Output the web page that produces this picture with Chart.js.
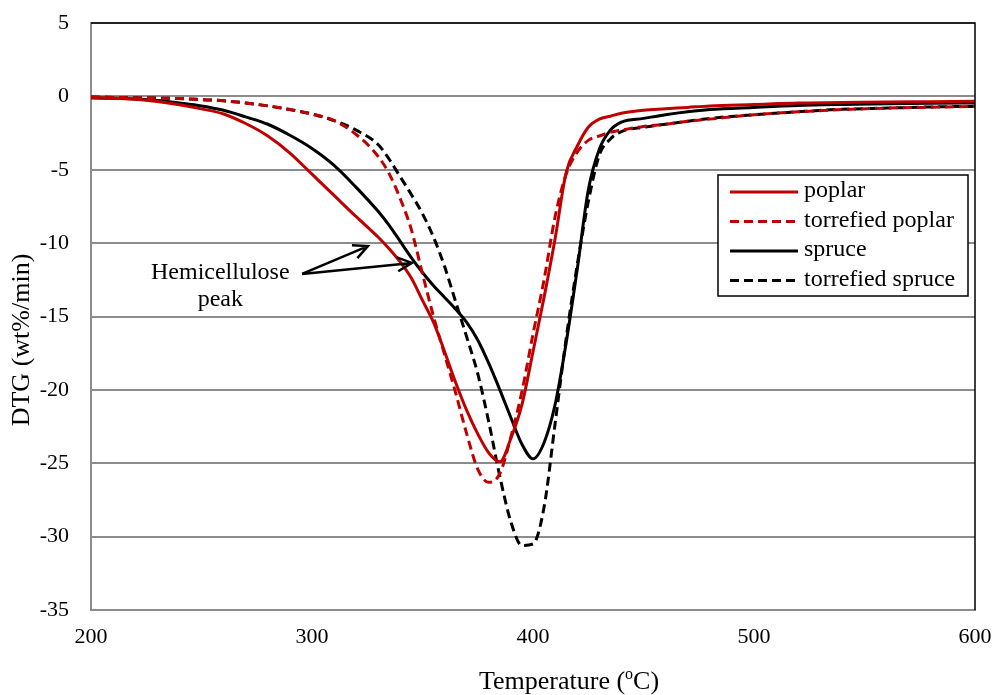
<!DOCTYPE html>
<html>
<head>
<meta charset="utf-8">
<script src="https://cdn.jsdelivr.net/npm/chart.js@4.4.1/dist/chart.umd.min.js"></script>
<style>
  html, body { margin: 0; padding: 0; background: #fff; overflow: hidden; }
</style>
</head>
<body>
<canvas id="dtg" width="995" height="695"></canvas>
<script>
// temperatures (°C) shared by all curves
const temps = [200, 210, 220, 230, 240, 250, 260, 270, 280, 290, 300, 310, 320, 330, 335, 340, 345, 350, 355, 360, 365, 370, 375, 380, 385, 390, 395, 400, 405, 410, 415, 420, 425, 430, 435, 440, 450, 460, 470, 480, 500, 520, 540, 560, 580, 600];

// DTG (wt%/min)
const poplar = [-0.1, -0.13, -0.2, -0.35, -0.57, -0.85, -1.2, -1.85, -2.7, -3.86, -5.3, -6.75, -8.2, -9.6, -10.4, -11.3, -12.4, -13.9, -15.4, -17.4, -19.5, -21.4, -23.0, -24.3, -24.9, -23.3, -21.0, -17.4, -13.7, -9.7, -5.2, -3.4, -2.1, -1.55, -1.35, -1.15, -0.95, -0.85, -0.75, -0.65, -0.55, -0.45, -0.42, -0.38, -0.36, -0.34];
const torrPoplar = [-0.05, -0.07, -0.1, -0.12, -0.15, -0.22, -0.3, -0.45, -0.65, -0.9, -1.2, -1.65, -2.6, -4.1, -5.3, -7.0, -9.1, -12.1, -15.0, -17.6, -20.2, -23.0, -25.4, -26.3, -25.7, -23.2, -20.1, -16.2, -12.5, -8.2, -5.3, -3.8, -3.0, -2.7, -2.45, -2.3, -2.05, -1.9, -1.7, -1.55, -1.25, -1.05, -0.9, -0.8, -0.74, -0.68];
const spruce = [-0.1, -0.12, -0.18, -0.28, -0.45, -0.65, -0.95, -1.4, -1.9, -2.65, -3.55, -4.7, -6.2, -7.85, -8.8, -9.9, -11.0, -12.0, -12.9, -13.7, -14.5, -15.4, -16.6, -18.2, -20.0, -21.9, -23.7, -24.7, -23.6, -21.0, -16.8, -11.8, -6.4, -3.6, -2.3, -1.75, -1.5, -1.25, -1.05, -0.9, -0.75, -0.62, -0.55, -0.5, -0.47, -0.45];
const torrSpruce = [-0.05, -0.07, -0.1, -0.12, -0.15, -0.22, -0.3, -0.45, -0.65, -0.9, -1.2, -1.65, -2.3, -3.3, -4.3, -5.5, -6.7, -8.0, -9.6, -11.6, -14.0, -16.4, -18.9, -22.2, -25.9, -29.0, -30.6, -30.5, -28.0, -22.3, -16.5, -11.5, -7.2, -4.0, -2.9, -2.4, -2.1, -1.9, -1.7, -1.5, -1.25, -1.05, -0.88, -0.8, -0.72, -0.68];

const seriesNames = ["poplar", "torrefied poplar", "spruce", "torrefied spruce"];
const yTicks = [5, 0, -5, -10, -15, -20, -25, -30, -35];
const xTicks = [200, 300, 400, 500, 600];

const FONT = "'Liberation Serif', 'Times New Roman', serif";
const RED = "#c00000";

function pts(vals) {
  return temps.map((t, i) => ({ x: t, y: vals[i] }));
}

function line(label, vals, color, dashed) {
  return {
    label: label,
    data: pts(vals),
    borderColor: color,
    backgroundColor: color,
    borderWidth: 3,
    borderDash: dashed ? [9, 5] : [],
    pointRadius: 0,
    cubicInterpolationMode: "monotone",
    fill: false,
  };
}

// annotation "Hemicellulose peak" (in data units)
const note = { lines: ["Hemicellulose", "peak"], x: 258.5, y: -12.0 };
const arrowFrom = { x: 295.5, y: -12.1 };
const arrowTips = [{ x: 325.3, y: -10.2 }, { x: 345.2, y: -11.35 }];

const extras = {
  id: "extras",
  afterDraw(c) {
    const ctx = c.ctx;
    const a = c.chartArea;
    const xs = c.scales.x, ys = c.scales.y;
    ctx.save();

    // top and right border of the plot
    ctx.strokeStyle = "#000";
    ctx.lineWidth = 1.5;
    ctx.beginPath();
    ctx.moveTo(a.left, a.top);
    ctx.lineTo(a.right, a.top);
    ctx.lineTo(a.right, a.bottom);
    ctx.stroke();

    // x axis title with superscript o
    ctx.fillStyle = "#000";
    ctx.textBaseline = "alphabetic";
    ctx.textAlign = "left";
    const big = "26px " + FONT, small = "16px " + FONT;
    const p1 = "Temperature (", p2 = "o", p3 = "C)";
    ctx.font = big;
    const w1 = ctx.measureText(p1).width, w3 = ctx.measureText(p3).width;
    ctx.font = small;
    const w2 = ctx.measureText(p2).width;
    let tx0 = 569 - (w1 + w2 + w3) / 2;
    const by = 689;
    ctx.font = big;
    ctx.fillText(p1, tx0, by);
    ctx.font = small;
    ctx.fillText(p2, tx0 + w1, by - 10);
    ctx.font = big;
    ctx.fillText(p3, tx0 + w1 + w2, by);

    // y axis title
    ctx.save();
    ctx.translate(22, 340);
    ctx.rotate(-Math.PI / 2);
    ctx.font = "26px " + FONT;
    ctx.textAlign = "center";
    ctx.textBaseline = "middle";
    ctx.fillText("DTG (wt%/min)", 0, 0);
    ctx.restore();

    // annotation
    ctx.font = "24px " + FONT;
    ctx.textAlign = "center";
    ctx.textBaseline = "middle";
    const nx = xs.getPixelForValue(note.x), ny = ys.getPixelForValue(note.y);
    ctx.fillText(note.lines[0], nx, ny);
    ctx.fillText(note.lines[1], nx, ny + 27);

    const fx = xs.getPixelForValue(arrowFrom.x), fy = ys.getPixelForValue(arrowFrom.y);
    ctx.lineWidth = 2.5;
    ctx.strokeStyle = "#000";
    arrowTips.forEach((tip) => {
      const tx = xs.getPixelForValue(tip.x), ty = ys.getPixelForValue(tip.y);
      const ang = Math.atan2(ty - fy, tx - fx);
      ctx.beginPath();
      ctx.moveTo(fx, fy);
      ctx.lineTo(tx, ty);
      ctx.moveTo(tx - 16 * Math.cos(ang - 0.45), ty - 16 * Math.sin(ang - 0.45));
      ctx.lineTo(tx, ty);
      ctx.lineTo(tx - 16 * Math.cos(ang + 0.45), ty - 16 * Math.sin(ang + 0.45));
      ctx.stroke();
    });

    // legend box
    const lx = 718, ly = 175, lw = 250, lh = 121;
    ctx.fillStyle = "#fff";
    ctx.fillRect(lx, ly, lw, lh);
    ctx.strokeStyle = "#000";
    ctx.lineWidth = 1.5;
    ctx.strokeRect(lx, ly, lw, lh);
    ctx.font = "24px " + FONT;
    ctx.textAlign = "left";
    ctx.textBaseline = "middle";
    c.data.datasets.forEach((ds, i) => {
      const rowY = ly + 17 + i * 29.5;
      ctx.strokeStyle = ds.borderColor;
      ctx.lineWidth = 3;
      ctx.setLineDash(ds.borderDash);
      ctx.beginPath();
      ctx.moveTo(lx + 12, rowY);
      ctx.lineTo(lx + 80, rowY);
      ctx.stroke();
      ctx.setLineDash([]);
      ctx.fillStyle = "#000";
      ctx.fillText(ds.label, lx + 86, rowY - 1);
    });

    ctx.restore();
  },
};

new Chart(document.getElementById("dtg"), {
  type: "line",
  data: {
    datasets: [
      line(seriesNames[0], poplar, RED, false),
      line(seriesNames[1], torrPoplar, RED, true),
      line(seriesNames[2], spruce, "#000", false),
      line(seriesNames[3], torrSpruce, "#000", true),
    ],
  },
  options: {
    responsive: false,
    animation: false,
    devicePixelRatio: 1,
    layout: { padding: { top: 23, right: 20, left: 0, bottom: 0 } },
    plugins: { legend: { display: false }, tooltip: { enabled: false } },
    scales: {
      x: {
        type: "linear",
        min: 200,
        max: 600,
        afterBuildTicks: (s) => { s.ticks = xTicks.map((v) => ({ value: v })); },
        afterFit: (s) => { s.height = 85; s.paddingLeft = 0; s.paddingRight = 0; },
        grid: { display: false, drawTicks: false },
        border: { display: true, color: "#8c8c8c", width: 2 },
        ticks: { color: "#000", font: { family: FONT, size: 22 }, padding: 14, maxRotation: 0 },
        title: { display: false },
      },
      y: {
        min: -35,
        max: 5,
        afterBuildTicks: (s) => { s.ticks = yTicks.map((v) => ({ value: v })); },
        afterFit: (s) => { s.width = 91; s.paddingTop = 0; s.paddingBottom = 0; },
        grid: { color: "#8c8c8c", lineWidth: 2, drawTicks: false },
        border: { display: true, color: "#8c8c8c", width: 2 },
        ticks: { color: "#000", font: { family: FONT, size: 22 }, padding: 22 },
        title: { display: false },
      },
    },
  },
  plugins: [extras],
});
</script>
</body>
</html>
